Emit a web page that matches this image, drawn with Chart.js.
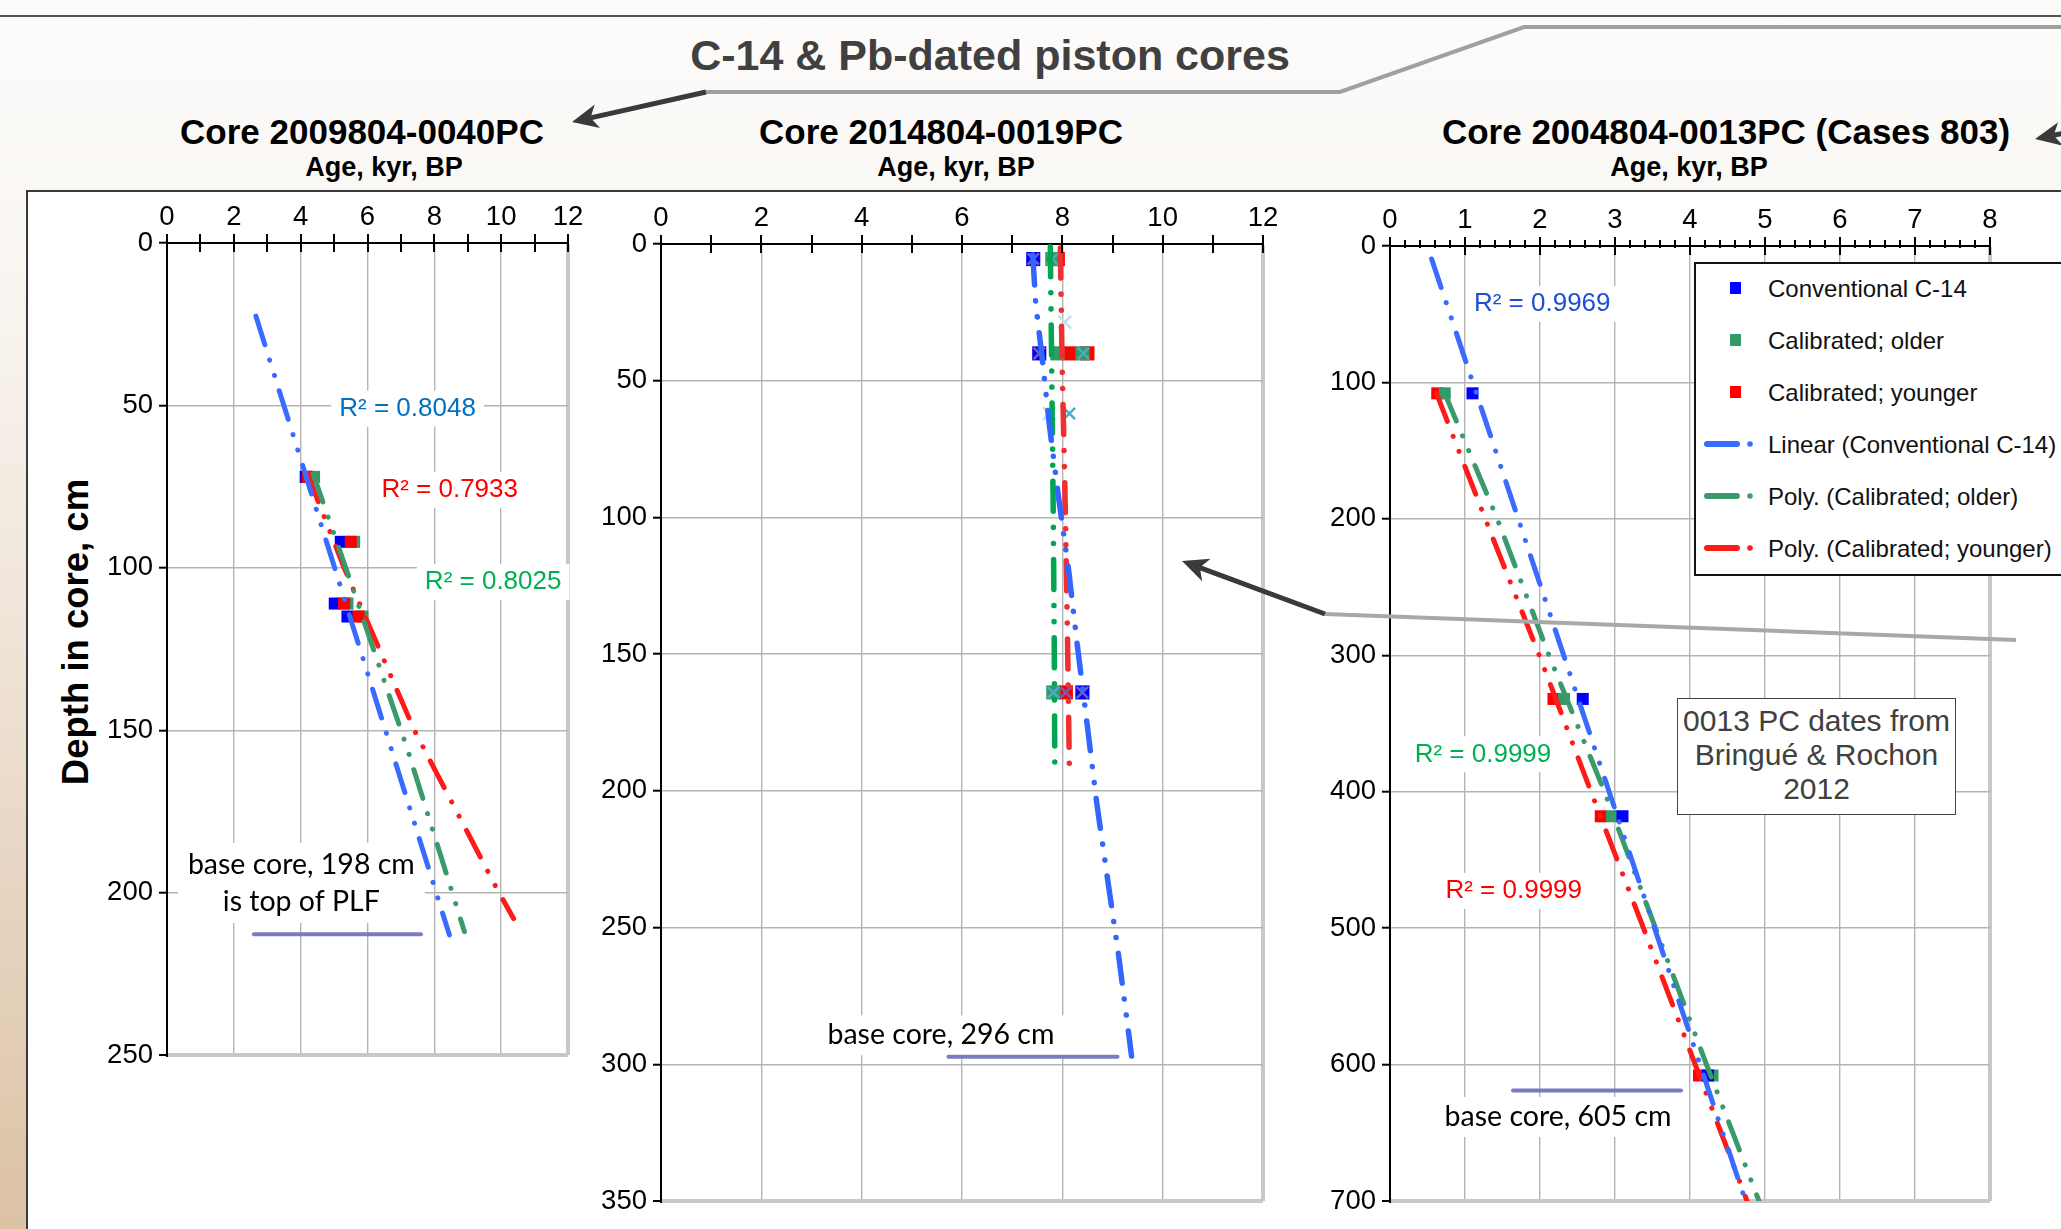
<!DOCTYPE html>
<html>
<head>
<meta charset="utf-8">
<script src="https://cdn.jsdelivr.net/npm/chart.js@4.4.1/dist/chart.umd.min.js"></script>
<style>
html, body { margin: 0; padding: 0; }
body {
  width: 2061px; height: 1229px; overflow: hidden; position: relative;
  font-family: "Liberation Sans", Arial, sans-serif;
  background: linear-gradient(180deg, #fdfcfb 0%, #f9f6f2 22%, #f0e5d9 50%, #e6d3bf 75%, #dcc2a5 100%);
}
#topline { position: absolute; left: 0; top: 15px; width: 2061px; height: 2px; background: #555; }
#frame { position: absolute; left: 26px; top: 190px; width: 2100px; height: 1100px; background: #fff;
  border-left: 2px solid #3a3a3a; border-top: 2px solid #3a3a3a; }
.t { position: absolute; white-space: nowrap; transform: translate(-50%, -50%); line-height: 1; font-weight: bold; color: #000; }
canvas { position: absolute; }
#legend { position: absolute; left: 1694px; top: 262px; width: 420px; height: 310px; border: 2px solid #111; background: #fff; }
#legend .row { position: absolute; left: 0; height: 30px; width: 420px; }
#legend .lab { position: absolute; left: 72px; top: 2px; font-size: 24px; color: #111; white-space: nowrap; }
#note { position: absolute; left: 1677px; top: 698px; width: 279px; height: 117px; border: 1.5px solid #444;
  background: #fff; color: #404040; font-size: 30px; line-height: 34px; text-align: center; box-sizing: border-box; padding-top: 5px; }
svg { position: absolute; left: 0; top: 0; pointer-events: none; }
</style>
</head>
<body>
<div id="topline"></div>
<div id="frame"></div>

<div class="t" style="left:990px;top:55px;font-size:43px;color:#404040;">C-14 &amp; Pb-dated piston cores</div>
<div class="t" style="left:362px;top:131px;font-size:35px;">Core 2009804-0040PC</div>
<div class="t" style="left:384px;top:167px;font-size:27px;">Age, kyr, BP</div>
<div class="t" style="left:941px;top:131px;font-size:35px;">Core 2014804-0019PC</div>
<div class="t" style="left:956px;top:167px;font-size:27px;">Age, kyr, BP</div>
<div class="t" style="left:1726px;top:131px;font-size:35px;">Core 2004804-0013PC (Cases 803)</div>
<div class="t" style="left:1689px;top:167px;font-size:27px;">Age, kyr, BP</div>
<div class="t" style="left:76px;top:632px;font-size:36.5px;transform:translate(-50%,-50%) rotate(-90deg);">Depth in core, cm</div>

<canvas id="c40" width="521" height="912" style="left:87px;top:183px;"></canvas>
<canvas id="c19" width="722" height="1057" style="left:581px;top:184px;"></canvas>
<canvas id="c13" width="720" height="1055" style="left:1310px;top:186px;"></canvas>

<div id="legend"></div>
<div id="note">0013 PC dates from<br>Bringué &amp; Rochon<br>2012</div>
<svg id="arrows" width="2061" height="1229"></svg>

<script>
// ---- Core 2009804-0040PC (depth cm, age kyr BP) ----
const c40Depth = [72, 92, 111, 115];
const c40Conv = [4.15, 5.2, 5.02, 5.4];
const c40Older = [4.4, 5.6, 5.4, 5.85];
const c40Younger = [4.22, 5.5, 5.3, 5.73];
const c40LinAge = [2.66, 8.45];
const c40LinDepth = [22.5, 213];
const c40OldFitAge = [4.37, 5.35, 7.2, 8.9];
const c40OldFitDepth = [71, 100, 156, 212];
const c40YoungFitAge = [4.2, 5.3, 7.4, 9.88, 10.37];
const c40YoungFitDepth = [71, 100, 150, 199, 208];
const c40BaseAge = [2.6, 7.6];
const c40BaseDepth = [212.8, 212.8];

// ---- Core 2014804-0019PC ----
const c19ConvAge = [7.42, 7.54, 8.4];
const c19ConvDepth = [5.5, 40, 164];
const c19OlderAge = [7.8, 7.9, 8.4, 7.82];
const c19OlderDepth = [5.5, 40, 40, 164];
const c19YoungerAge = [7.91, 8.14, 8.5, 8.07];
const c19YoungerDepth = [5.5, 40, 40, 164];
const c19CrossAAge = [7.42, 7.54, 8.07, 8.4];
const c19CrossADepth = [5.5, 40, 164, 164];
const c19CrossBAge = [7.8, 8.42, 8.14, 7.82];
const c19CrossBDepth = [5.5, 40, 62, 164];
const c19CrossCAge = [8.05, 7.74];
const c19CrossCDepth = [28.6, 62];
const c19ConvFitAge = [7.41, 7.47, 7.6, 7.74, 7.92, 8.13, 8.3, 8.49, 8.69, 8.9, 9.12, 9.38];
const c19ConvFitDepth = [4, 22, 42, 66, 92, 120, 147, 175, 205, 232, 260, 297];
const c19OldFitAge = [7.76, 7.79, 7.82, 7.84, 7.85];
const c19OldFitDepth = [1, 48, 100, 150, 191];
const c19YoungFitAge = [7.96, 8.0, 8.05, 8.1, 8.14];
const c19YoungFitDepth = [1.5, 48, 88, 140, 191];
const c19BaseAge = [5.73, 9.1];
const c19BaseDepth = [297.2, 297.2];

// ---- Core 2004804-0013PC ----
const c13Depth = [108, 332, 418, 608];
const c13Conv = [1.1, 2.57, 3.1, 4.24];
const c13Older = [0.73, 2.32, 2.96, 4.3];
const c13Younger = [0.63, 2.18, 2.81, 4.12];
const c13LinAge = [0.555, 4.74];
const c13LinDepth = [9.5, 700];
const c13OldFitAge = [0.73, 1.43, 2.12, 2.86, 3.54, 4.22, 4.92];
const c13OldFitDepth = [108, 200, 300, 400, 500, 600, 700];
const c13YoungFitAge = [0.62, 1.27, 1.99, 2.68, 3.38, 4.07, 4.76];
const c13YoungFitDepth = [108, 200, 300, 400, 500, 600, 700];
const c13BaseAge = [1.64, 3.88];
const c13BaseDepth = [619, 619];

const legendNames = ['Conventional C-14', 'Calibrated; older', 'Calibrated; younger',
  'Linear (Conventional C-14)', 'Poly. (Calibrated; older)', 'Poly. (Calibrated; younger)'];

const FONT = '"Liberation Sans", Arial, sans-serif';
const DASH = [30, 16, 0.1, 16, 0.1, 16];
const BLUE = '#0000ff', GREEN = '#339966', RED = '#ff0000';
const BLUE_FIT = '#3a6bff', GREEN_FIT = '#3a9a6a', RED_FIT = '#ff1a1a';
const BASE = '#7b7bbf';

Chart.defaults.font.family = FONT;
Chart.defaults.color = '#000';

function pairs(ages, depths) {
  return ages.map((a, i) => ({ x: a, y: depths[i] }));
}

function fit(label, ages, depths, color, dash, width) {
  return {
    label: label, data: pairs(ages, depths), showLine: true,
    borderColor: color, backgroundColor: color, borderWidth: width || 5,
    borderDash: dash === undefined ? DASH : dash,
    borderCapStyle: 'round', borderJoinStyle: 'round',
    pointRadius: 0, pointHoverRadius: 0
  };
}

function marks(label, ages, depths, color, r, style) {
  const cross = style === 'crossRot';
  return {
    label: label, data: pairs(ages, depths), showLine: false,
    pointStyle: style || 'rect', pointRadius: r, pointHoverRadius: r,
    backgroundColor: color, borderColor: color, borderWidth: cross ? 2.5 : 0
  };
}

function scales(xMax, xStep, yMax, yStep) {
  const last = (c, max) => c.tick && c.tick.value === max;
  return {
    x: {
      type: 'linear', position: 'top', min: 0, max: xMax,
      afterFit: function (s) { s.height = 60; },
      ticks: { stepSize: xStep, padding: 9, font: { size: 27.5 }, color: '#000', maxRotation: 0, autoSkip: false },
      grid: {
        drawTicks: false,
        color: c => last(c, xMax) ? '#c8c8c8' : '#b4b4b4',
        lineWidth: c => last(c, xMax) ? 4 : 1.4
      },
      border: { color: '#000', width: 2 }
    },
    y: {
      type: 'linear', reverse: true, min: 0, max: yMax,
      afterFit: function (s) { s.width = 80; },
      ticks: { stepSize: yStep, padding: 6, font: { size: 27.5 }, color: '#000' },
      grid: {
        color: c => last(c, yMax) ? '#c8c8c8' : '#b4b4b4',
        lineWidth: c => last(c, yMax) ? 4 : 1.4,
        tickColor: '#000', tickLength: 8, tickWidth: 2
      },
      border: { color: '#000', width: 2 }
    }
  };
}

// cross tick marks on the top age axis
function topTicks(major, minor) {
  return {
    id: 'topTicks',
    afterDraw(chart) {
      const x = chart.scales.x, ctx = chart.ctx, y0 = chart.chartArea.top;
      ctx.save();
      ctx.strokeStyle = '#000';
      ctx.lineWidth = 2;
      ctx.beginPath();
      if (minor) {
        for (let v = 0; v <= x.max + 1e-9; v += minor) {
          const px = Math.round(x.getPixelForValue(v));
          ctx.moveTo(px, y0 - 6); ctx.lineTo(px, y0 + 2);
        }
      }
      for (let v = 0; v <= x.max + 1e-9; v += major) {
        const px = Math.round(x.getPixelForValue(v));
        ctx.moveTo(px, y0 - 9); ctx.lineTo(px, y0 + 9);
      }
      ctx.stroke();
      ctx.restore();
    }
  };
}

// text labels placed in data coordinates, on a white box
function notes(items) {
  return {
    id: 'notes',
    beforeDatasetsDraw(chart) {
      const ctx = chart.ctx, x = chart.scales.x, y = chart.scales.y;
      items.forEach(n => {
        ctx.save();
        ctx.font = n.font;
        const lines = n.text.split('\n');
        const w = Math.max.apply(null, lines.map(l => ctx.measureText(l).width));
        const h = n.lh * lines.length;
        const cx = x.getPixelForValue(n.x), cy = y.getPixelForValue(n.y);
        ctx.fillStyle = '#fff';
        ctx.fillRect(cx - w / 2 - n.pad, cy - h / 2 - 3, w + 2 * n.pad, h + 6);
        ctx.fillStyle = n.color;
        ctx.textAlign = 'center';
        ctx.textBaseline = 'middle';
        lines.forEach((l, i) => ctx.fillText(l, cx, cy - h / 2 + n.lh * (i + 0.5)));
        ctx.restore();
      });
    }
  };
}

const R2 = '26px ' + FONT;
const CAL = '28.5px Lato, "Open Sans", sans-serif';

function build(id, datasets, sc, plugins) {
  return new Chart(document.getElementById(id), {
    type: 'scatter',
    data: { datasets: datasets },
    options: {
      responsive: false, animation: false, devicePixelRatio: 1,
      layout: { padding: { left: 0, top: 0, right: 40, bottom: 40 } },
      plugins: { legend: { display: false }, tooltip: { enabled: false } },
      scales: sc
    },
    plugins: plugins
  });
}

build('c40', [
  fit('Linear (Conventional C-14)', c40LinAge, c40LinDepth, BLUE_FIT),
  fit('Poly. (Calibrated; older)', c40OldFitAge, c40OldFitDepth, GREEN_FIT),
  fit('Poly. (Calibrated; younger)', c40YoungFitAge, c40YoungFitDepth, RED_FIT),
  fit('base core', c40BaseAge, c40BaseDepth, BASE, [], 4),
  marks('Calibrated; younger', c40Younger, c40Depth, RED, 8.5),
  marks('Conventional C-14', c40Conv, c40Depth, BLUE, 8.5),
  marks('Calibrated; older', c40Older, c40Depth, GREEN, 8.5)
], scales(12, 2, 250, 50), [
  topTicks(1),
  notes([
    { text: 'R² = 0.8048', x: 7.2, y: 51, color: '#0070c0', font: R2, lh: 30, pad: 8 },
    { text: 'R² = 0.7933', x: 8.46, y: 76, color: '#ff0000', font: R2, lh: 30, pad: 8 },
    { text: 'R² = 0.8025', x: 9.76, y: 104.4, color: '#00b050', font: R2, lh: 30, pad: 8 },
    { text: 'base core, 198 cm\nis top of PLF', x: 4.02, y: 197, color: '#000', font: CAL, lh: 37, pad: 10 }
  ])
]);

build('c19', [
  fit('Linear (Conventional C-14)', c19ConvFitAge, c19ConvFitDepth, '#3366ff', undefined, 5.5),
  fit('Poly. (Calibrated; older)', c19OldFitAge, c19OldFitDepth, '#00a651', undefined, 5.5),
  fit('Poly. (Calibrated; younger)', c19YoungFitAge, c19YoungFitDepth, '#ee3030', undefined, 5.5),
  fit('base core', c19BaseAge, c19BaseDepth, BASE, [], 4),
  marks('Pb-dated (a)', c19CrossAAge, c19CrossADepth, '#7a5ca8', 8, 'crossRot'),
  marks('Pb-dated (b)', c19CrossBAge, c19CrossBDepth, '#4bacc6', 8, 'crossRot'),
  marks('Pb-dated (c)', c19CrossCAge, c19CrossCDepth, '#c4e0ea', 9, 'crossRot'),
  marks('Conventional C-14', c19ConvAge, c19ConvDepth, BLUE, 10),
  marks('Calibrated; older', c19OlderAge, c19OlderDepth, GREEN, 10),
  marks('Calibrated; younger', c19YoungerAge, c19YoungerDepth, RED, 10)
], scales(12, 2, 350, 50), [
  topTicks(1),
  notes([
    { text: 'base core, 296 cm', x: 5.58, y: 289.4, color: '#000', font: CAL, lh: 34, pad: 14 }
  ])
]);

const chart13 = build('c13', [
  fit('Linear (Conventional C-14)', c13LinAge, c13LinDepth, BLUE_FIT),
  fit('Poly. (Calibrated; older)', c13OldFitAge, c13OldFitDepth, GREEN_FIT),
  fit('Poly. (Calibrated; younger)', c13YoungFitAge, c13YoungFitDepth, RED_FIT),
  fit('base core', c13BaseAge, c13BaseDepth, BASE, [], 4),
  marks('Conventional C-14', c13Conv, c13Depth, BLUE, 8.5),
  marks('Calibrated; older', c13Older, c13Depth, GREEN, 8.5),
  marks('Calibrated; younger', c13Younger, c13Depth, RED, 8.5)
], scales(8, 1, 700, 100), [
  topTicks(1, 0.2),
  notes([
    { text: 'R² = 0.9969', x: 2.03, y: 42.4, color: '#1f4fd0', font: R2, lh: 30, pad: 8 },
    { text: 'R² = 0.9999', x: 1.24, y: 372.6, color: '#00b050', font: R2, lh: 30, pad: 8 },
    { text: 'R² = 0.9999', x: 1.65, y: 472.7, color: '#ff0000', font: R2, lh: 30, pad: 8 },
    { text: 'base core, 605 cm', x: 2.24, y: 638.4, color: '#000', font: CAL, lh: 34, pad: 10 }
  ])
]);

// legend for the third core, built from its datasets
(function () {
  const box = document.getElementById('legend');
  legendNames.forEach((name, i) => {
    const ds = chart13.data.datasets.find(d => d.label === name);
    const row = document.createElement('div');
    row.className = 'row';
    row.style.top = (9 + i * 51.9) + 'px';
    let sym;
    if (ds.showLine) {
      sym = '<svg width="60" height="30" style="position:absolute;left:0;top:0">' +
        '<line x1="11" y1="15" x2="41" y2="15" stroke="' + ds.borderColor + '" stroke-width="6" stroke-linecap="round"/>' +
        '<circle cx="54" cy="15" r="2.8" fill="' + ds.borderColor + '"/></svg>';
    } else {
      sym = '<div style="position:absolute;left:34px;top:9px;width:11px;height:12px;background:' + ds.backgroundColor + '"></div>';
    }
    row.innerHTML = sym + '<div class="lab">' + name + '</div>';
    box.appendChild(row);
  });
})();

// connector lines and arrows
(function () {
  const svg = document.getElementById('arrows');
  let html = '';
  function poly(pts, color, w) {
    html += '<polyline points="' + pts.map(p => p.join(',')).join(' ') + '" fill="none" stroke="' + color +
      '" stroke-width="' + w + '" stroke-linejoin="miter"/>';
  }
  function arrow(tail, tip) {
    const dx = tip[0] - tail[0], dy = tip[1] - tail[1], len = Math.hypot(dx, dy);
    const ux = dx / len, uy = dy / len, nx = -uy, ny = ux, L = 26, W = 12;
    const bx = tip[0] - ux * L, by = tip[1] - uy * L;
    const nxp = tip[0] - ux * (L - 7), nyp = tip[1] - uy * (L - 7);
    poly([tail, [nxp, nyp]], '#3a3a3a', 5);
    html += '<polygon points="' + [tip, [bx + nx * W, by + ny * W], [nxp, nyp], [bx - nx * W, by - ny * W]]
      .map(p => p.join(',')).join(' ') + '" fill="#3a3a3a"/>';
  }
  poly([[706, 92], [1340, 92], [1524, 27], [2061, 27]], '#a0a0a0', 4);
  arrow([706, 92], [572, 122]);
  poly([[1325, 614], [2016, 640]], '#a8a8a8', 4);
  arrow([1325, 614], [1182, 561]);
  arrow([2100, 126], [2035, 139]);
  svg.innerHTML = html;
})();
</script>
</body>
</html>
